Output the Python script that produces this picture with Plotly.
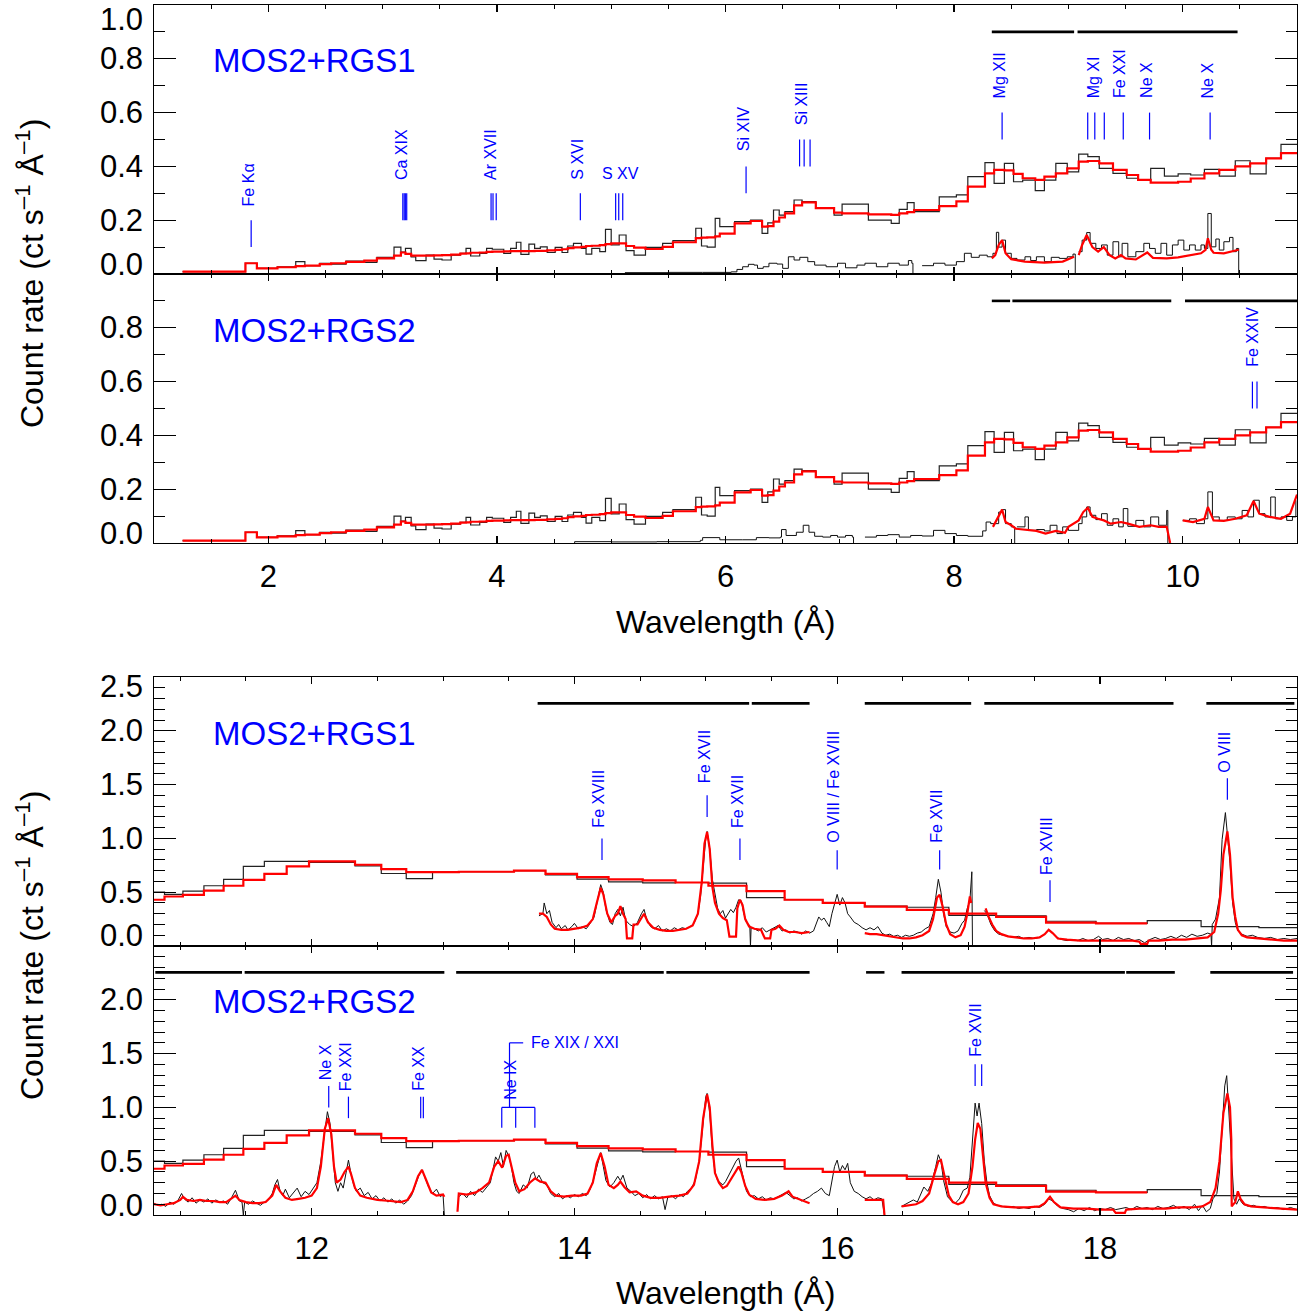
import plotly.graph_objects as go

W, H = 1310, 1316
FONT = "Liberation Sans, Arial, Helvetica, sans-serif"
BLUE = "#0000ff"
RED = "#ff0000"

# ---------------- MOS2 spectrum, 1-11 A (same in panels 1 and 2) ----------------
mos_top_edges = [1.25, 1.80, 1.90, 2.08, 2.24, 2.32, 2.45, 2.55, 2.68, 2.84,
                 2.95, 3.10, 3.16, 3.20, 3.25, 3.29, 3.38, 3.45, 3.52, 3.60,
                 3.68, 3.73, 3.77, 3.85, 3.91, 3.96, 4.06, 4.12, 4.17, 4.21,
                 4.28, 4.33, 4.38, 4.44, 4.51, 4.57, 4.62, 4.67, 4.74, 4.78,
                 4.83, 4.90, 4.95, 5.00, 5.07, 5.13, 5.20, 5.30, 5.45, 5.54,
                 5.74, 5.79, 5.84, 5.91, 5.95, 6.08, 6.22, 6.32, 6.37, 6.42,
                 6.47, 6.52, 6.60, 6.67, 6.79, 6.95, 7.02, 7.25, 7.45, 7.52,
                 7.59, 7.65, 7.87, 8.02, 8.12, 8.27, 8.35, 8.44, 8.52, 8.60,
                 8.71, 8.79, 8.89, 8.99, 9.09, 9.17, 9.27, 9.39, 9.51, 9.61,
                 9.72, 9.84, 9.96, 10.07, 10.19, 10.32, 10.46, 10.59, 10.73, 10.86,
                 11.0]
mos_top_data = [0.009, 0.040, 0.021, 0.027, 0.046, 0.031, 0.040, 0.037, 0.048, 0.043,
                0.062, 0.100, 0.081, 0.095, 0.064, 0.050, 0.070, 0.055, 0.052, 0.070,
                0.077, 0.095, 0.067, 0.077, 0.095, 0.092, 0.077, 0.095, 0.118, 0.073,
                0.111, 0.095, 0.101, 0.080, 0.099, 0.080, 0.104, 0.114, 0.095, 0.074,
                0.095, 0.083, 0.166, 0.108, 0.145, 0.087, 0.070, 0.099, 0.114, 0.124,
                0.170, 0.104, 0.100, 0.207, 0.176, 0.195, 0.200, 0.151, 0.190, 0.238,
                0.219, 0.232, 0.275, 0.269, 0.244, 0.219, 0.260, 0.200, 0.188, 0.240,
                0.265, 0.232, 0.287, 0.294, 0.362, 0.414, 0.337, 0.411, 0.343, 0.349,
                0.310, 0.349, 0.411, 0.380, 0.446, 0.436, 0.393, 0.374, 0.356, 0.349,
                0.393, 0.364, 0.372, 0.368, 0.389, 0.364, 0.421, 0.372, 0.430, 0.482]
mos_top_model = [0.009, 0.040, 0.021, 0.025, 0.029, 0.031, 0.037, 0.040, 0.045, 0.050,
                 0.058, 0.068, 0.080, 0.075, 0.068, 0.068, 0.068, 0.069, 0.070, 0.072,
                 0.076, 0.077, 0.079, 0.080, 0.082, 0.083, 0.084, 0.085, 0.085, 0.085,
                 0.085, 0.086, 0.086, 0.088, 0.090, 0.092, 0.096, 0.099, 0.101, 0.104,
                 0.105, 0.107, 0.111, 0.114, 0.114, 0.104, 0.098, 0.093, 0.101, 0.118,
                 0.133, 0.135, 0.136, 0.140, 0.150, 0.188, 0.197, 0.176, 0.178, 0.195,
                 0.210, 0.225, 0.255, 0.266, 0.245, 0.228, 0.225, 0.222, 0.220, 0.225,
                 0.230, 0.238, 0.252, 0.270, 0.325, 0.374, 0.387, 0.385, 0.372, 0.356,
                 0.350, 0.362, 0.374, 0.393, 0.418, 0.420, 0.411, 0.387, 0.368, 0.350,
                 0.340, 0.340, 0.343, 0.355, 0.374, 0.387, 0.400, 0.411, 0.430, 0.449]

# ---------------- MOS2 spectrum, 10.8-19.5 A (same in panels 3 and 4) ----------------
mos_bot_edges = [10.80, 10.88, 11.02, 11.18, 11.33, 11.48, 11.64, 11.81, 11.98, 12.33,
                 12.53, 12.72, 12.92, 13.12, 13.54, 13.78, 14.02, 14.26, 14.52, 14.77,
                 15.02, 15.31, 15.60, 15.89, 16.21, 16.53, 16.85, 17.21, 17.59, 17.97,
                 18.36, 18.77, 19.21, 19.50]
mos_bot_data = [0.50, 0.48, 0.51, 0.56, 0.62, 0.74, 0.786, 0.786, 0.776, 0.745,
                0.674, 0.627, 0.683, 0.69, 0.70, 0.661, 0.621, 0.596, 0.587, 0.59,
                0.584, 0.45, 0.43, 0.40, 0.37, 0.36, 0.285, 0.28, 0.23, 0.21,
                0.236, 0.18, 0.17]
mos_bot_model = [0.43, 0.46, 0.475, 0.515, 0.56, 0.615, 0.67, 0.74, 0.786, 0.755,
                 0.714, 0.686, 0.686, 0.69, 0.70, 0.67, 0.64, 0.62, 0.61, 0.59,
                 0.56, 0.51, 0.43, 0.40, 0.366, 0.335, 0.30, 0.27, 0.217, 0.21]

# ---------------- RGS spectra, 1-11 A ----------------
rgs1_top_data = [(5.12, 0.005), (5.50, 0.006), (5.80, 0.006), (6.05, 0.008), (6.10, 0.017), (6.15, 0.027),
                 (6.20, 0.036), (6.25, 0.033), (6.28, 0.021), (6.33, 0.027), (6.38, 0.040), (6.45, 0.037),
                 (6.50, 0.021), (6.55, 0.064), (6.60, 0.052), (6.65, 0.062), (6.72, 0.046), (6.78, 0.033),
                 (6.88, 0.027), (6.98, 0.040), (7.05, 0.023), (7.15, 0.033), (7.22, 0.040), (7.32, 0.027),
                 (7.42, 0.040), (7.52, 0.033), (7.60, 0.050), (7.63, 0.040), (7.64, 0.0), (None, None),
                 (7.72, 0.031), (7.82, 0.040), (7.92, 0.033), (8.02, 0.046), (8.09, 0.077), (8.15, 0.062),
                 (8.22, 0.070), (8.29, 0.064), (8.34, 0.077), (8.37, 0.155), (8.39, 0.100), (8.42, 0.126),
                 (8.45, 0.077), (8.50, 0.058), (8.55, 0.052), (8.62, 0.064), (8.67, 0.050), (8.72, 0.064),
                 (8.79, 0.046), (8.85, 0.062), (8.92, 0.058), (8.99, 0.064), (9.04, 0.074), (9.06, 0.0),
                 (None, None),
                 (9.09, 0.083), (9.12, 0.126), (9.16, 0.154), (9.19, 0.114), (9.24, 0.095), (9.29, 0.108),
                 (9.34, 0.070), (9.39, 0.120), (9.44, 0.064), (9.47, 0.114), (9.52, 0.064), (9.59, 0.083),
                 (9.66, 0.114), (9.71, 0.095), (9.76, 0.077), (9.81, 0.114), (9.86, 0.070), (9.91, 0.108),
                 (9.96, 0.126), (10.01, 0.089), (10.06, 0.108), (10.11, 0.089), (10.16, 0.108), (10.19, 0.095),
                 (10.22, 0.225), (10.25, 0.101), (10.29, 0.130), (10.32, 0.089), (10.36, 0.120), (10.41, 0.136),
                 (10.44, 0.083), (10.47, 0.095), (10.49, 0.0)]
rgs1_top_model = [(8.33, 0.058), (8.36, 0.070), (8.39, 0.108), (8.42, 0.126), (8.45, 0.077), (8.50, 0.055),
                  (8.62, 0.046), (8.79, 0.042), (8.95, 0.046), (9.05, 0.064), (None, None),
                  (9.09, 0.070), (9.12, 0.108), (9.16, 0.145), (9.21, 0.100), (9.26, 0.083), (9.31, 0.100),
                  (9.36, 0.070), (9.41, 0.058), (9.46, 0.070), (9.50, 0.058), (9.59, 0.054), (9.69, 0.080),
                  (9.74, 0.060), (9.86, 0.058), (9.96, 0.062), (10.06, 0.070), (10.16, 0.077), (10.20, 0.090),
                  (10.22, 0.133), (10.25, 0.090), (10.27, 0.079), (10.36, 0.077), (10.49, 0.090)]
rgs2_top_data = [(4.68, 0.0), (4.68, 0.005), (5.00, 0.004), (5.40, 0.005), (5.78, 0.010), (5.80, 0.020),
                 (5.95, 0.012), (6.15, 0.012), (6.27, 0.020), (6.38, 0.019), (6.48, 0.022), (6.49, 0.050),
                 (6.53, 0.028), (6.62, 0.040), (6.68, 0.066), (6.73, 0.040), (6.78, 0.025), (6.85, 0.022),
                 (6.92, 0.028), (6.98, 0.022), (7.05, 0.028), (7.11, 0.022), (7.12, 0.0), (None, None),
                 (7.22, 0.022), (7.32, 0.028), (7.42, 0.031), (7.52, 0.022), (7.62, 0.028), (7.72, 0.026),
                 (7.82, 0.047), (7.92, 0.035), (8.02, 0.028), (8.12, 0.025), (8.25, 0.045), (8.28, 0.078),
                 (8.32, 0.072), (8.39, 0.115), (8.42, 0.124), (8.45, 0.072), (8.50, 0.060), (8.53, 0.0),
                 (None, None),
                 (8.55, 0.060), (8.62, 0.097), (8.65, 0.047), (8.72, 0.050), (8.79, 0.045), (8.84, 0.066),
                 (8.90, 0.035), (8.95, 0.060), (9.00, 0.047), (9.09, 0.072), (9.12, 0.097), (9.16, 0.134),
                 (9.19, 0.103), (9.24, 0.087), (9.29, 0.109), (9.34, 0.066), (9.39, 0.090), (9.44, 0.060),
                 (9.48, 0.128), (9.52, 0.062), (9.59, 0.084), (9.66, 0.060), (9.72, 0.097), (9.79, 0.066),
                 (9.86, 0.121), (9.87, 0.0), (None, None),
                 (10.00, 0.084), (10.06, 0.090), (10.12, 0.072), (10.19, 0.090), (10.22, 0.190), (10.26, 0.097),
                 (10.32, 0.084), (10.39, 0.097), (10.46, 0.090), (10.52, 0.121), (10.57, 0.097), (10.62, 0.159),
                 (10.67, 0.109), (10.72, 0.097), (10.77, 0.171), (10.81, 0.090), (10.86, 0.097), (10.91, 0.084),
                 (10.96, 0.097), (10.99, 0.159)]
rgs2_top_model = [(8.34, 0.060), (8.39, 0.097), (8.42, 0.124), (8.45, 0.078), (8.50, 0.066), (8.54, 0.053),
                  (8.65, 0.047), (8.72, 0.045), (8.80, 0.035), (8.89, 0.045), (8.97, 0.038), (9.00, 0.060),
                  (9.09, 0.084), (9.13, 0.115), (9.17, 0.131), (9.21, 0.097), (9.26, 0.090), (9.31, 0.084),
                  (9.37, 0.072), (9.46, 0.078), (9.52, 0.072), (9.62, 0.060), (9.72, 0.066), (9.79, 0.060),
                  (9.86, 0.060), (9.89, 0.0), (None, None),
                  (10.00, 0.084), (10.09, 0.078), (10.19, 0.090), (10.22, 0.134), (10.27, 0.084), (10.36, 0.082),
                  (10.46, 0.090), (10.56, 0.103), (10.62, 0.156), (10.67, 0.109), (10.76, 0.097), (10.86, 0.090),
                  (10.94, 0.109), (11.00, 0.180)]

# ---------------- RGS spectra, 10.8-19.5 A ----------------
rgs1_bot_data = [(13.73, 0.28), (13.76, 0.30), (13.77, 0.40), (13.79, 0.30), (13.81, 0.33), (13.83, 0.22),
                 (13.86, 0.17), (13.88, 0.20), (13.90, 0.16), (13.93, 0.19), (13.95, 0.15), (13.98, 0.18),
                 (14.00, 0.21), (14.03, 0.16), (14.06, 0.18), (14.09, 0.16), (14.12, 0.21), (14.15, 0.27),
                 (14.18, 0.45), (14.20, 0.57), (14.22, 0.50), (14.24, 0.34), (14.27, 0.22), (14.29, 0.20),
                 (14.31, 0.30), (14.33, 0.34), (14.35, 0.28), (14.37, 0.36), (14.39, 0.24), (14.42, 0.20),
                 (14.45, 0.18), (14.48, 0.22), (14.51, 0.30), (14.53, 0.34), (14.55, 0.25), (14.58, 0.18),
                 (14.61, 0.16), (14.64, 0.19), (14.67, 0.14), (14.70, 0.16), (14.73, 0.14), (14.76, 0.17),
                 (14.79, 0.15), (14.82, 0.17), (14.85, 0.16), (14.88, 0.18), (14.91, 0.21), (14.94, 0.30),
                 (14.96, 0.46), (14.98, 0.75), (15.00, 1.00), (15.01, 1.065), (15.03, 0.90), (15.05, 0.62),
                 (15.07, 0.48), (15.09, 0.35), (15.11, 0.30), (15.13, 0.33), (15.15, 0.26), (15.17, 0.30),
                 (15.19, 0.34), (15.21, 0.31), (15.23, 0.36), (15.25, 0.43), (15.27, 0.42), (15.29, 0.30),
                 (15.31, 0.22), (15.335, 0.19), (15.34, 0.0), (15.345, 0.17), (15.37, 0.16), (15.40, 0.14),
                 (15.43, 0.17), (15.46, 0.13), (15.49, 0.15), (15.52, 0.17), (15.55, 0.19), (15.58, 0.14),
                 (15.61, 0.15), (15.64, 0.12), (15.67, 0.14), (15.70, 0.13), (15.73, 0.11), (15.76, 0.14),
                 (15.79, 0.12), (15.82, 0.14), (15.84, 0.20), (15.86, 0.27), (15.88, 0.24), (15.90, 0.26),
                 (15.92, 0.22), (15.94, 0.18), (15.96, 0.30), (15.98, 0.38), (16.00, 0.48), (16.02, 0.38),
                 (16.04, 0.45), (16.06, 0.40), (16.08, 0.30), (16.10, 0.27), (16.13, 0.22), (16.16, 0.20),
                 (16.19, 0.17), (16.22, 0.15), (16.25, 0.17), (16.28, 0.15), (16.31, 0.18), (16.34, 0.12),
                 (16.37, 0.10), (16.40, 0.11), (16.43, 0.09), (16.46, 0.10), (16.49, 0.08), (16.52, 0.10),
                 (16.55, 0.09), (16.58, 0.10), (16.61, 0.12), (16.64, 0.13), (16.67, 0.16), (16.70, 0.18),
                 (16.73, 0.30), (16.75, 0.45), (16.77, 0.62), (16.79, 0.50), (16.81, 0.30), (16.83, 0.18),
                 (16.86, 0.13), (16.89, 0.12), (16.92, 0.14), (16.95, 0.21), (16.97, 0.24), (16.99, 0.35),
                 (17.01, 0.42), (17.025, 0.69), (17.03, 0.0), (None, None),
                 (17.12, 0.33), (17.14, 0.30), (17.17, 0.20), (17.20, 0.14), (17.23, 0.11), (17.26, 0.10),
                 (17.30, 0.09), (17.34, 0.08), (17.38, 0.09), (17.42, 0.07), (17.46, 0.08), (17.50, 0.07),
                 (17.54, 0.08), (17.58, 0.11), (17.61, 0.15), (17.64, 0.12), (17.67, 0.08), (17.71, 0.06),
                 (17.75, 0.05), (17.79, 0.06), (17.83, 0.05), (17.87, 0.07), (17.91, 0.05), (17.95, 0.06),
                 (17.99, 0.09), (18.02, 0.06), (18.06, 0.07), (18.10, 0.05), (18.14, 0.08), (18.18, 0.06),
                 (18.22, 0.07), (18.26, 0.05), (18.30, 0.06), (18.34, 0.03), (18.38, 0.06), (18.42, 0.08),
                 (18.46, 0.06), (18.50, 0.07), (18.54, 0.09), (18.58, 0.07), (18.62, 0.10), (18.66, 0.08),
                 (18.70, 0.11), (18.74, 0.09), (18.78, 0.10), (18.82, 0.12), (18.845, 0.11), (18.85, 0.0),
                 (18.855, 0.20), (18.88, 0.25), (18.91, 0.45), (18.93, 0.99), (18.955, 1.24), (18.97, 1.05),
                 (18.99, 0.77), (19.01, 0.40), (19.03, 0.22), (19.05, 0.14), (19.08, 0.11), (19.12, 0.09),
                 (19.16, 0.10), (19.20, 0.08), (19.25, 0.07), (19.30, 0.08), (19.35, 0.06), (19.40, 0.07),
                 (19.45, 0.06), (19.50, 0.07)]
rgs1_bot_model = [(13.73, 0.30), (13.76, 0.30), (13.79, 0.27), (13.82, 0.20), (13.85, 0.16), (13.90, 0.15),
                  (13.95, 0.15), (14.00, 0.16), (14.05, 0.17), (14.10, 0.19), (14.14, 0.25), (14.17, 0.40),
                  (14.20, 0.54), (14.22, 0.48), (14.25, 0.30), (14.28, 0.22), (14.31, 0.28), (14.33, 0.30),
                  (14.35, 0.37), (14.37, 0.30), (14.39, 0.25), (14.40, 0.07), (14.44, 0.07), (14.45, 0.20),
                  (14.48, 0.20), (14.51, 0.26), (14.53, 0.30), (14.56, 0.22), (14.60, 0.17), (14.65, 0.15),
                  (14.70, 0.14), (14.75, 0.14), (14.80, 0.15), (14.85, 0.16), (14.90, 0.19), (14.94, 0.30),
                  (14.97, 0.60), (14.99, 0.95), (15.01, 1.06), (15.03, 0.90), (15.05, 0.55), (15.07, 0.40),
                  (15.10, 0.30), (15.13, 0.26), (15.16, 0.24), (15.18, 0.087), (15.23, 0.087), (15.24, 0.35),
                  (15.26, 0.43), (15.28, 0.38), (15.30, 0.25), (15.33, 0.18), (15.37, 0.16), (15.42, 0.15),
                  (15.45, 0.07), (15.49, 0.07), (15.50, 0.15), (15.53, 0.16), (15.56, 0.19), (15.59, 0.15),
                  (15.63, 0.13), (15.68, 0.13), (15.73, 0.12), (15.79, 0.13), (None, None),
                  (16.21, 0.12), (16.25, 0.11), (16.30, 0.11), (16.35, 0.10), (16.40, 0.09), (16.45, 0.08),
                  (16.50, 0.07), (16.55, 0.07), (16.60, 0.08), (16.65, 0.10), (16.70, 0.14), (16.73, 0.25),
                  (16.76, 0.45), (16.78, 0.475), (16.80, 0.38), (16.83, 0.20), (16.86, 0.11), (16.90, 0.08),
                  (16.94, 0.10), (16.97, 0.18), (16.99, 0.30), (17.01, 0.46), (17.02, 0.40), (None, None),
                  (17.13, 0.35), (17.15, 0.28), (17.18, 0.20), (17.21, 0.14), (17.25, 0.11), (17.30, 0.09),
                  (17.36, 0.08), (17.42, 0.07), (17.48, 0.07), (17.54, 0.08), (17.58, 0.11), (17.61, 0.15),
                  (17.64, 0.12), (17.68, 0.07), (17.75, 0.06), (17.85, 0.05), (17.95, 0.05), (18.05, 0.05),
                  (18.15, 0.05), (18.25, 0.05), (18.30, 0.04), (18.31, 0.02), (18.36, 0.02), (18.37, 0.05),
                  (18.45, 0.05), (18.55, 0.06), (18.65, 0.06), (18.75, 0.07), (18.82, 0.08), (18.87, 0.13),
                  (18.90, 0.30), (18.92, 0.52), (18.94, 0.85), (18.97, 1.065), (18.99, 0.85), (19.01, 0.45),
                  (19.03, 0.27), (19.05, 0.15), (19.08, 0.10), (19.12, 0.08), (19.20, 0.07), (19.30, 0.06),
                  (19.40, 0.05), (19.50, 0.05)]
rgs2_bot_data = [(10.80, 0.11), (10.83, 0.09), (10.86, 0.10), (10.89, 0.08), (10.92, 0.12), (10.95, 0.10),
                 (10.98, 0.13), (11.01, 0.20), (11.03, 0.15), (11.06, 0.12), (11.09, 0.16), (11.12, 0.11),
                 (11.15, 0.14), (11.18, 0.12), (11.21, 0.15), (11.24, 0.11), (11.27, 0.14), (11.30, 0.12),
                 (11.33, 0.13), (11.36, 0.10), (11.39, 0.16), (11.42, 0.23), (11.45, 0.13), (11.47, 0.12),
                 (11.48, 0.0), (11.49, 0.12), (11.52, 0.10), (11.55, 0.13), (11.58, 0.11), (11.61, 0.09),
                 (11.64, 0.12), (11.67, 0.14), (11.70, 0.20), (11.72, 0.28), (11.74, 0.33), (11.76, 0.22),
                 (11.78, 0.18), (11.80, 0.24), (11.83, 0.16), (11.86, 0.21), (11.89, 0.25), (11.92, 0.17),
                 (11.95, 0.22), (11.98, 0.19), (12.01, 0.24), (12.04, 0.30), (12.07, 0.50), (12.10, 0.80),
                 (12.12, 0.96), (12.14, 0.85), (12.16, 0.55), (12.18, 0.30), (12.20, 0.22), (12.22, 0.30),
                 (12.24, 0.25), (12.26, 0.40), (12.28, 0.51), (12.30, 0.38), (12.32, 0.28), (12.34, 0.22),
                 (12.37, 0.25), (12.40, 0.18), (12.43, 0.21), (12.46, 0.15), (12.49, 0.18), (12.52, 0.13),
                 (12.55, 0.16), (12.58, 0.12), (12.61, 0.15), (12.64, 0.11), (12.67, 0.14), (12.70, 0.10),
                 (12.73, 0.13), (12.76, 0.18), (12.79, 0.28), (12.82, 0.38), (12.84, 0.42), (12.86, 0.36),
                 (12.89, 0.26), (12.92, 0.20), (12.95, 0.24), (12.98, 0.17), (13.00, 0.19), (13.01, 0.0),
                 (None, None),
                 (13.12, 0.17), (13.15, 0.20), (13.18, 0.16), (13.21, 0.22), (13.24, 0.18), (13.27, 0.24),
                 (13.30, 0.21), (13.33, 0.26), (13.36, 0.30), (13.38, 0.42), (13.40, 0.54), (13.42, 0.50),
                 (13.44, 0.58), (13.46, 0.45), (13.48, 0.60), (13.50, 0.55), (13.52, 0.45), (13.54, 0.30),
                 (13.56, 0.22), (13.58, 0.20), (13.61, 0.28), (13.64, 0.25), (13.67, 0.38), (13.69, 0.40),
                 (13.71, 0.33), (13.73, 0.37), (13.76, 0.30), (13.79, 0.28), (13.82, 0.20), (13.85, 0.17),
                 (13.88, 0.20), (13.91, 0.15), (13.94, 0.18), (13.97, 0.16), (14.00, 0.19), (14.03, 0.17),
                 (14.06, 0.20), (14.09, 0.18), (14.12, 0.24), (14.15, 0.35), (14.18, 0.50), (14.20, 0.58),
                 (14.22, 0.45), (14.24, 0.32), (14.27, 0.26), (14.30, 0.30), (14.33, 0.36), (14.35, 0.32),
                 (14.37, 0.37), (14.40, 0.25), (14.43, 0.22), (14.46, 0.18), (14.49, 0.20), (14.52, 0.16),
                 (14.55, 0.19), (14.58, 0.15), (14.61, 0.18), (14.64, 0.15), (14.67, 0.17), (14.69, 0.05),
                 (14.71, 0.16), (14.74, 0.18), (14.77, 0.15), (14.80, 0.19), (14.83, 0.17), (14.86, 0.22),
                 (14.89, 0.25), (14.92, 0.32), (14.95, 0.50), (14.98, 0.85), (15.00, 1.10), (15.01, 1.13),
                 (15.03, 0.95), (15.05, 0.60), (15.07, 0.40), (15.09, 0.32), (15.11, 0.30), (15.13, 0.28),
                 (15.15, 0.31), (15.17, 0.36), (15.20, 0.42), (15.23, 0.50), (15.25, 0.53), (15.27, 0.42),
                 (15.29, 0.30), (15.31, 0.22), (15.34, 0.17), (15.37, 0.18), (15.40, 0.15), (15.43, 0.17),
                 (15.46, 0.14), (15.49, 0.16), (15.52, 0.15), (15.55, 0.17), (15.58, 0.19), (15.61, 0.21),
                 (15.64, 0.18), (15.67, 0.15), (15.70, 0.16), (15.73, 0.13), (15.76, 0.15), (15.79, 0.17),
                 (15.82, 0.20), (15.85, 0.22), (15.88, 0.25), (15.91, 0.20), (15.94, 0.18), (15.96, 0.30),
                 (15.98, 0.45), (16.00, 0.51), (16.02, 0.40), (16.04, 0.46), (16.06, 0.42), (16.08, 0.48),
                 (16.10, 0.30), (16.13, 0.22), (16.16, 0.20), (16.19, 0.17), (16.22, 0.15), (16.25, 0.17),
                 (16.28, 0.14), (16.31, 0.16), (16.34, 0.15), (16.36, 0.0), (None, None),
                 (16.49, 0.08), (16.52, 0.10), (16.55, 0.12), (16.58, 0.14), (16.61, 0.12), (16.64, 0.20),
                 (16.66, 0.26), (16.69, 0.22), (16.72, 0.30), (16.75, 0.45), (16.77, 0.56), (16.79, 0.50),
                 (16.81, 0.32), (16.84, 0.17), (16.87, 0.13), (16.90, 0.11), (16.93, 0.15), (16.96, 0.23),
                 (16.99, 0.25), (17.01, 0.35), (17.03, 0.70), (17.05, 1.04), (17.065, 0.92), (17.08, 1.04),
                 (17.10, 0.85), (17.12, 0.50), (17.14, 0.30), (17.16, 0.18), (17.19, 0.11), (17.22, 0.09),
                 (17.26, 0.08), (17.30, 0.07), (17.34, 0.08), (17.38, 0.06), (17.42, 0.07), (17.46, 0.06),
                 (17.50, 0.08), (17.54, 0.07), (17.58, 0.10), (17.61, 0.15), (17.64, 0.13), (17.68, 0.08),
                 (17.72, 0.06), (17.76, 0.05), (17.80, 0.03), (17.84, 0.06), (17.88, 0.04), (17.92, 0.07),
                 (17.96, 0.04), (18.00, 0.06), (18.04, 0.05), (18.08, 0.07), (18.12, 0.05), (18.16, 0.06),
                 (18.20, 0.07), (18.24, 0.05), (18.28, 0.08), (18.32, 0.06), (18.36, 0.07), (18.40, 0.05),
                 (18.44, 0.08), (18.48, 0.06), (18.52, 0.07), (18.56, 0.09), (18.60, 0.06), (18.64, 0.08),
                 (18.68, 0.05), (18.72, 0.10), (18.75, 0.04), (18.78, 0.09), (18.81, 0.03), (18.84, 0.06),
                 (18.86, 0.15), (18.89, 0.20), (18.91, 0.40), (18.93, 0.80), (18.95, 1.20), (18.965, 1.295),
                 (18.98, 1.00), (19.00, 0.50), (19.02, 0.15), (19.04, 0.10), (19.06, 0.15), (19.09, 0.10),
                 (19.13, 0.08), (19.17, 0.09), (19.21, 0.07), (19.25, 0.08), (19.30, 0.06), (19.35, 0.07),
                 (19.40, 0.05), (19.45, 0.07), (19.50, 0.05)]
rgs2_bot_model = [(10.80, 0.10), (10.85, 0.09), (10.90, 0.10), (10.95, 0.11), (11.00, 0.14), (11.02, 0.17),
                  (11.05, 0.14), (11.10, 0.13), (11.15, 0.14), (11.20, 0.13), (11.25, 0.13), (11.30, 0.12),
                  (11.35, 0.12), (11.40, 0.16), (11.42, 0.18), (11.45, 0.14), (11.50, 0.12), (11.55, 0.11),
                  (11.60, 0.11), (11.65, 0.12), (11.70, 0.18), (11.73, 0.28), (11.76, 0.22), (11.80, 0.16),
                  (11.85, 0.14), (11.90, 0.15), (11.95, 0.16), (12.00, 0.18), (12.04, 0.25), (12.07, 0.45),
                  (12.10, 0.80), (12.125, 0.90), (12.15, 0.75), (12.17, 0.45), (12.19, 0.30), (12.22, 0.33),
                  (12.25, 0.40), (12.28, 0.45), (12.30, 0.38), (12.33, 0.25), (12.37, 0.18), (12.42, 0.16),
                  (12.50, 0.14), (12.60, 0.13), (12.68, 0.12), (12.73, 0.14), (12.77, 0.22), (12.81, 0.36),
                  (12.84, 0.42), (12.87, 0.33), (12.91, 0.21), (12.95, 0.18), (13.00, 0.19), (13.01, 0.17),
                  (None, None),
                  (13.11, 0.03), (13.12, 0.20), (13.18, 0.19), (13.25, 0.21), (13.30, 0.25), (13.35, 0.30),
                  (13.39, 0.45), (13.42, 0.50), (13.45, 0.44), (13.48, 0.55), (13.50, 0.56), (13.52, 0.45),
                  (13.55, 0.30), (13.58, 0.22), (13.62, 0.24), (13.66, 0.30), (13.70, 0.34), (13.74, 0.31),
                  (13.78, 0.30), (13.82, 0.22), (13.86, 0.18), (13.92, 0.17), (13.98, 0.18), (14.05, 0.18),
                  (14.10, 0.20), (14.14, 0.30), (14.17, 0.48), (14.20, 0.575), (14.23, 0.45), (14.26, 0.28),
                  (14.30, 0.25), (14.33, 0.28), (14.35, 0.31), (14.38, 0.26), (14.42, 0.21), (14.47, 0.22),
                  (14.52, 0.18), (14.58, 0.16), (14.65, 0.16), (14.72, 0.17), (14.80, 0.18), (14.86, 0.20),
                  (14.91, 0.28), (14.95, 0.50), (14.98, 0.90), (15.01, 1.12), (15.03, 1.00), (15.05, 0.65),
                  (15.07, 0.39), (15.10, 0.30), (15.13, 0.25), (15.16, 0.27), (15.19, 0.33), (15.22, 0.40),
                  (15.25, 0.45), (15.27, 0.40), (15.30, 0.27), (15.33, 0.19), (15.38, 0.15), (15.45, 0.14),
                  (15.52, 0.15), (15.58, 0.18), (15.63, 0.22), (15.66, 0.17), (15.72, 0.14), (15.79, 0.11),
                  (None, None),
                  (16.21, 0.14), (16.28, 0.14), (16.35, 0.14), (16.36, 0.0), (None, None),
                  (16.49, 0.08), (16.55, 0.09), (16.60, 0.10), (16.65, 0.13), (16.70, 0.20), (16.74, 0.38),
                  (16.77, 0.50), (16.79, 0.51), (16.82, 0.35), (16.85, 0.18), (16.88, 0.12), (16.92, 0.10),
                  (16.96, 0.12), (17.00, 0.20), (17.03, 0.45), (17.05, 0.70), (17.07, 0.855), (17.09, 0.80),
                  (17.11, 0.55), (17.13, 0.30), (17.16, 0.16), (17.19, 0.10), (17.25, 0.08), (17.35, 0.07),
                  (17.45, 0.07), (17.54, 0.08), (17.58, 0.11), (17.62, 0.17), (17.65, 0.12), (17.70, 0.07),
                  (17.80, 0.06), (17.90, 0.06), (18.00, 0.05), (18.10, 0.05), (18.12, 0.02), (18.19, 0.02),
                  (18.20, 0.05), (18.30, 0.06), (18.40, 0.06), (18.50, 0.06), (18.60, 0.07), (18.70, 0.07),
                  (18.78, 0.08), (18.84, 0.12), (18.88, 0.25), (18.91, 0.50), (18.94, 0.95), (18.97, 1.13),
                  (18.99, 1.00), (19.00, 0.70), (19.003, 0.08), (19.03, 0.12), (19.05, 0.22), (19.07, 0.15),
                  (19.10, 0.10), (19.15, 0.08), (19.25, 0.07), (19.35, 0.06), (19.45, 0.05), (19.50, 0.05)]

# ---------------- fitted-range bars ----------------
bars_p1 = [(8.33, 9.05), (9.08, 10.48)]
bars_p2 = [(8.33, 8.49), (8.51, 9.90), (10.02, 11.0)]
bars_p3 = [(13.72, 15.33), (15.35, 15.79), (16.21, 17.02), (17.12, 18.56), (18.81, 19.48)]
bars_p4 = [(10.81, 11.47), (11.49, 13.01), (13.10, 14.68), (14.70, 15.79), (16.22, 16.36),
           (16.49, 18.19), (18.20, 18.57), (18.84, 19.47)]
bar_level_top = 0.90
bar_level_bot = 2.255

# ---------------- line identifications: (label, wavelengths, line y0, line y1, text bottom) ----
lines_p1 = [("Fe Kα", [1.85], 0.10, 0.20, 0.25),
            ("Ca XIX", [3.177, 3.189, 3.199, 3.211], 0.20, 0.30, 0.35),
            ("Ar XVII", [3.949, 3.966, 3.994], 0.20, 0.30, 0.35),
            ("S XVI", [4.73], 0.20, 0.30, 0.35),
            ("Si XIV", [6.18], 0.30, 0.40, 0.455),
            ("Si XIII", [6.648, 6.688, 6.740], 0.40, 0.50, 0.554),
            ("Mg XII", [8.42], 0.50, 0.60, 0.653),
            ("Mg XI", [9.169, 9.231, 9.314], 0.50, 0.60, 0.653),
            ("Fe XXI", [9.48], 0.50, 0.60, 0.653),
            ("Ne X", [9.71], 0.50, 0.60, 0.653),
            ("Ne X", [10.24], 0.50, 0.60, 0.653)]
sxv_lines = [5.039, 5.066, 5.101]
sxv_text = (5.08, 0.373)
lines_p2 = [("Fe XXIV", [10.61, 10.65], 0.50, 0.60, 0.654)]
lines_p3 = [("Fe XVIII", [14.21], 0.80, 1.00, 1.10),
            ("Fe XVII", [15.01], 1.20, 1.40, 1.51),
            ("Fe XVII", [15.26], 0.80, 1.00, 1.10),
            ("O VIII / Fe XVIII", [16.00], 0.71, 0.89, 0.96),
            ("Fe XVII", [16.78], 0.71, 0.89, 0.96),
            ("Fe XVIII", [17.62], 0.41, 0.61, 0.66),
            ("O VIII", [18.97], 1.36, 1.56, 1.61)]
lines_p4 = [("Ne X", [12.13], 1.00, 1.20, 1.25),
            ("Fe XXI", [12.28], 0.90, 1.10, 1.15),
            ("Fe XX", [12.83, 12.85], 0.90, 1.10, 1.15),
            ("Fe XVII", [17.05, 17.10], 1.20, 1.40, 1.47)]
neix_lines = [13.447, 13.553, 13.699]
neix_y = (0.81, 1.00)
neix_text = (13.54, 1.07)
fexix_corner = (13.506, 1.60, 13.61)
fexix_text = (13.655, 1.60)

# ---------------- tick labels ----------------
yticks_top1 = [0.0, 0.2, 0.4, 0.6, 0.8, 1.0]
yticks_top2 = [0.0, 0.2, 0.4, 0.6, 0.8]
yticks_bot3 = [0.0, 0.5, 1.0, 1.5, 2.0, 2.5]
yticks_bot4 = [0.0, 0.5, 1.0, 1.5, 2.0]

# ================= figure construction =================
XDOM = [154 / W, 1297 / W]
YDOM = {1: [1 - 274 / H, 1 - 5 / H], 2: [1 - 543 / H, 1 - 274 / H],
        3: [1 - 946 / H, 1 - 677 / H], 4: [1 - 1215 / H, 1 - 946 / H]}
XR = {1: [1.0, 11.0], 2: [1.0, 11.0], 3: [10.8, 19.5], 4: [10.8, 19.5]}
YR = {1: [0, 1.0], 2: [0, 1.0], 3: [0, 2.5], 4: [0, 2.5]}


def ax_id(i):
    return ("x" if i == 1 else "x%d" % i), ("y" if i == 1 else "y%d" % i)


def split(points):
    return [p[0] for p in points], [p[1] for p in points]


def steps(edges, vals):
    n = len(vals)
    return list(edges[:n + 1]), list(vals) + [vals[-1]]


fig = go.Figure()


def add(i, x, y, color, width, shape="linear"):
    xa, ya = ax_id(i)
    fig.add_trace(go.Scatter(x=x, y=y, mode="lines", xaxis=xa, yaxis=ya,
                             line=dict(color=color, width=width, shape=shape),
                             connectgaps=False, showlegend=False, hoverinfo="skip"))


def segs(seglist):
    xs, ys = [], []
    for (x0, y0, x1, y1) in seglist:
        xs += [x0, x1, None]
        ys += [y0, y1, None]
    return xs, ys


# MOS spectra (black data, red model) + RGS
for i in (1, 2):
    ex, ey = steps(mos_top_edges, mos_top_data)
    add(i, ex, ey, "#222222", 1.2, "hv")
for i, pts in ((1, rgs1_top_data), (2, rgs2_top_data)):
    x, y = split(pts)
    add(i, x, y, "#111111", 1.0, "hv")
for i in (1, 2):
    ex, ey = steps(mos_top_edges, mos_top_model)
    add(i, ex, ey, RED, 2.2, "hv")
for i, pts in ((1, rgs1_top_model), (2, rgs2_top_model)):
    x, y = split(pts)
    add(i, x, y, RED, 2.2)

for i in (3, 4):
    ex, ey = steps(mos_bot_edges, mos_bot_data)
    add(i, ex, ey, "#222222", 1.2, "hv")
for i, pts in ((3, rgs1_bot_data), (4, rgs2_bot_data)):
    x, y = split(pts)
    add(i, x, y, "#111111", 1.0)
for i in (3, 4):
    ex, ey = steps(mos_bot_edges, mos_bot_model)
    add(i, ex, ey, RED, 2.2, "hv")
for i, pts in ((3, rgs1_bot_model), (4, rgs2_bot_model)):
    x, y = split(pts)
    add(i, x, y, RED, 2.2)

# bars
for i, bars, lev in ((1, bars_p1, bar_level_top), (2, bars_p2, bar_level_top),
                     (3, bars_p3, bar_level_bot), (4, bars_p4, bar_level_bot)):
    x, y = segs([(a, lev, b, lev) for a, b in bars])
    add(i, x, y, "black", 2.6)

annotations = []


def label_lines(i, items, yshift):
    xa, ya = ax_id(i)
    sl = []
    for name, wls, y0, y1, yt in items:
        for w in wls:
            sl.append((w, y0, w, y1))
        xc = (min(wls) + max(wls)) / 2
        annotations.append(dict(text=name, x=xc, y=yt, xref=xa, yref=ya, textangle=-90,
                                xanchor="center", yanchor="bottom", xshift=-3, yshift=yshift,
                                showarrow=False, font=dict(size=16, color=BLUE, family=FONT)))
    return sl


s1 = label_lines(1, lines_p1, -2)
s1 += [(w, 0.20, w, 0.30) for w in sxv_lines]
annotations.append(dict(text="S XV", x=sxv_text[0], y=sxv_text[1], xref="x", yref="y",
                        showarrow=False, font=dict(size=16, color=BLUE, family=FONT)))
x, y = segs(s1)
add(1, x, y, BLUE, 1.2)
x, y = segs(label_lines(2, lines_p2, -2))
add(2, x, y, BLUE, 1.2)
x, y = segs(label_lines(3, lines_p3, -2))
add(3, x, y, BLUE, 1.2)
s4 = label_lines(4, lines_p4, -2)
s4 += [(w, neix_y[0], w, neix_y[1]) for w in neix_lines]
s4 += [(neix_lines[0], neix_y[1], neix_lines[-1], neix_y[1])]
s4 += [(fexix_corner[0], neix_y[1], fexix_corner[0], fexix_corner[1]),
       (fexix_corner[0], fexix_corner[1], fexix_corner[2], fexix_corner[1])]
x, y = segs(s4)
add(4, x, y, BLUE, 1.2)
annotations.append(dict(text="Ne IX", x=neix_text[0], y=neix_text[1], xref="x4", yref="y4",
                        textangle=-90, xanchor="center", yanchor="bottom", xshift=-3, yshift=-2,
                        showarrow=False, font=dict(size=16, color=BLUE, family=FONT)))
annotations.append(dict(text="Fe XIX / XXI", x=fexix_text[0], y=fexix_text[1], xref="x4", yref="y4",
                        xanchor="left", yanchor="middle", showarrow=False,
                        font=dict(size=16, color=BLUE, family=FONT)))

# panel names
for i, name, ypix in ((1, "MOS2+RGS1", 61), (2, "MOS2+RGS2", 330),
                      (3, "MOS2+RGS1", 733), (4, "MOS2+RGS2", 1001)):
    annotations.append(dict(text=name, x=211 / W, y=1 - ypix / H, xref="paper", yref="paper",
                            xanchor="left", yanchor="middle", showarrow=False,
                            font=dict(size=33, color=BLUE, family=FONT)))

# y tick labels (edge labels kept inside the frame)
for i, vals in ((1, yticks_top1), (2, yticks_top2), (3, yticks_bot3), (4, yticks_bot4)):
    xa, ya = ax_id(i)
    top = YR[i][1]
    for v in vals:
        anchor, sh = "middle", 0
        if v == 0:
            sh = 10
        elif abs(v - top) < 1e-9:
            if i == 1:
                anchor, sh = "top", 5
            else:
                sh = -10
        annotations.append(dict(text="%.1f" % v, x=XDOM[0], y=v, xref="paper", yref=ya,
                                xanchor="right", yanchor=anchor, xshift=-9, yshift=sh,
                                showarrow=False, font=dict(size=31, color="black", family=FONT)))

# axis titles
for ypix in (622, 1293):
    annotations.append(dict(text="Wavelength (Å)", x=725.5 / W, y=1 - ypix / H, xref="paper",
                            yref="paper", xanchor="center", yanchor="middle", showarrow=False,
                            font=dict(size=32, color="black", family=FONT)))
for ypix in (274, 946):
    annotations.append(dict(text="Count rate (ct s<sup>–1</sup> Å<sup>–1</sup>)", x=30 / W,
                            y=1 - ypix / H, xref="paper", yref="paper", xanchor="center",
                            yanchor="middle", textangle=-90, showarrow=False,
                            font=dict(size=32, color="black", family=FONT)))

layout = dict(width=W, height=H, margin=dict(l=0, r=0, t=0, b=0),
              paper_bgcolor="white", plot_bgcolor="white", showlegend=False,
              annotations=annotations)
for i in (1, 2, 3, 4):
    xa, ya = ax_id(i)
    xkey = "xaxis" if i == 1 else "xaxis%d" % i
    ykey = "yaxis" if i == 1 else "yaxis%d" % i
    layout[xkey] = dict(domain=XDOM, range=XR[i], anchor=ya, showline=True, linecolor="black",
                        linewidth=1.3, mirror="ticks", ticks="inside", ticklen=7, tickwidth=1.2,
                        tickcolor="black", tick0=0, dtick=2, showticklabels=(i in (2, 4)),
                        tickfont=dict(size=31, color="black", family=FONT), ticklabelstandoff=5,
                        minor=dict(dtick=0.5, ticklen=4, tickwidth=1, tickcolor="black",
                                   ticks="inside"),
                        showgrid=False, zeroline=False, fixedrange=True)
    dt, mdt = (0.2, 0.1) if i in (1, 2) else (0.5, 0.1)
    layout[ykey] = dict(domain=YDOM[i], range=YR[i], anchor=xa, showline=True, linecolor="black",
                        linewidth=1.3, mirror="ticks", ticks="inside", ticklen=22, tickwidth=1.2,
                        tickcolor="black", tick0=0, dtick=dt, showticklabels=False,
                        minor=dict(dtick=mdt, ticklen=11, tickwidth=1, tickcolor="black",
                                   ticks="inside"),
                        showgrid=False, zeroline=False, fixedrange=True)
fig.update_layout(**layout)
fig.write_html("out.html", config={"displayModeBar": False, "staticPlot": True},
               post_script="document.body.style.margin='0px';document.body.style.padding='0px';")
